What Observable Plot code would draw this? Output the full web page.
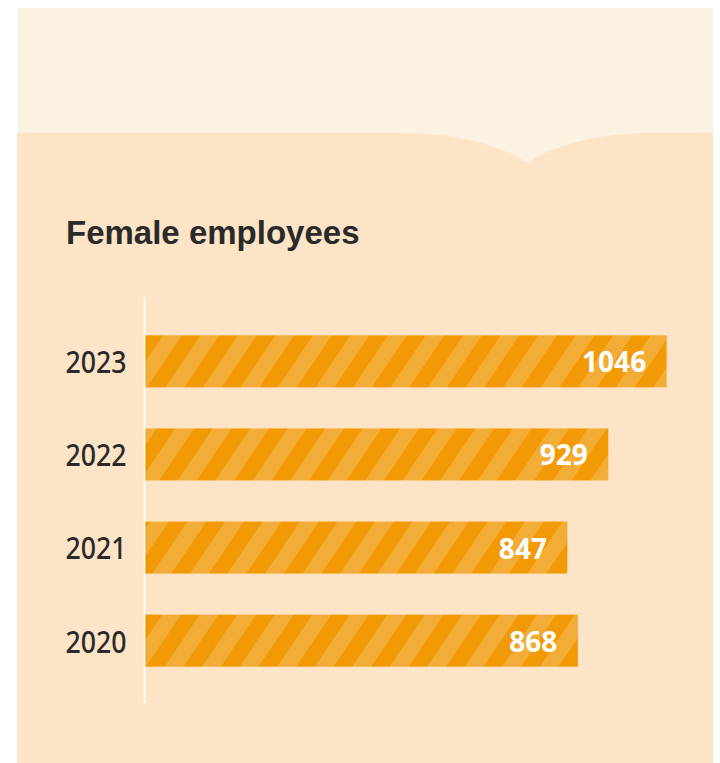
<!DOCTYPE html>
<html>
<head>
<meta charset="utf-8">
<script src="https://cdn.jsdelivr.net/npm/d3@7"></script>
<script src="https://cdn.jsdelivr.net/npm/@observablehq/plot@0.6"></script>
<style>
  html, body { margin: 0; padding: 0; background: #ffffff; }
  #wrap { position: relative; width: 720px; height: 763px; overflow: hidden; }
  #bg { position: absolute; left: 0; top: 0; }
  #title {
    position: absolute; left: 66px; top: 216px;
    font-family: "Liberation Sans", Arial, sans-serif; font-weight: 700;
    font-size: 33px; line-height: 33px; color: #2a2a2a; white-space: nowrap;
  }
  #chart { position: absolute; left: 0; top: 299px; }
</style>
</head>
<body>
<div id="wrap">
  <svg id="bg" width="720" height="763">
    <rect x="17.5" y="8" width="695.5" height="170" fill="#FCF2E2"></rect>
    <path d="M17,133 H398 Q480,133 528,163 Q565,137 640,133 H713 V763 H17 Z" fill="#FDE4C6"></path>
  </svg>
  <div id="title">Female employees</div>
  <div id="chart"></div>
</div>
<script>
const years = ["2023", "2022", "2021", "2020"];
const values = [1046, 929, 847, 868];
const labels = ["1046", "929", "847", "868"];

const data = years.map((y, i) => ({year: y, value: values[i], label: labels[i]}));

const plot = Plot.plot({
  width: 720,
  height: 404,
  marginLeft: 145,
  marginRight: 26.4,
  marginTop: 0,
  marginBottom: 0,
  style: {background: "transparent", color: "#2a2a2a", overflow: "visible"},
  x: {domain: [0, 1100], axis: null},
  y: {domain: years, paddingInner: 0.441, paddingOuter: 0.39, round: false, axis: null},
  marks: [
    Plot.barX(data, {x: "value", y: "year", fill: "url(#stripes)"}),
    Plot.ruleX([0], {stroke: "#ffffff", strokeWidth: 1.6, dx: -1, insetTop: -1}),
    Plot.text(data, {x: 0, y: "year", text: "year", textAnchor: "end", dx: -19, dy: 1.5, fill: "#2a2a2a", fontSize: 31, fontWeight: 500, fontFamily: "'Noto Sans', sans-serif", ariaLabel: "year-label"}),
    Plot.text(data, {x: "value", y: "year", text: "label", textAnchor: "end", dx: -21, dy: 1.5, fill: "#ffffff", fontWeight: 700, fontSize: 28, fontFamily: "'Noto Sans', sans-serif"})
  ]
});

const ns = "http://www.w3.org/2000/svg";
const defs = document.createElementNS(ns, "defs");
const pat = document.createElementNS(ns, "pattern");
pat.setAttribute("id", "stripes");
pat.setAttribute("patternUnits", "userSpaceOnUse");
pat.setAttribute("width", "31.1");
pat.setAttribute("height", "40");
pat.setAttribute("patternTransform", "rotate(34)");
const r1 = document.createElementNS(ns, "rect");
r1.setAttribute("width", "31.1"); r1.setAttribute("height", "40"); r1.setAttribute("fill", "#F29A05");
const r2 = document.createElementNS(ns, "rect");
r2.setAttribute("width", "15.55"); r2.setAttribute("height", "40"); r2.setAttribute("fill", "#F3AC36");
pat.appendChild(r1); pat.appendChild(r2);
defs.appendChild(pat);
plot.insertBefore(defs, plot.firstChild);

document.getElementById("chart").appendChild(plot);

// narrow the year labels horizontally (condensed face look), keeping their right edge
plot.querySelectorAll("text").forEach(t => {
  if (years.includes(t.textContent.trim())) {
    const w = t.getComputedTextLength();
    t.setAttribute("textLength", (w * 0.86).toFixed(1));
    t.setAttribute("lengthAdjust", "spacingAndGlyphs");
  }
});
</script>
</body>
</html>
